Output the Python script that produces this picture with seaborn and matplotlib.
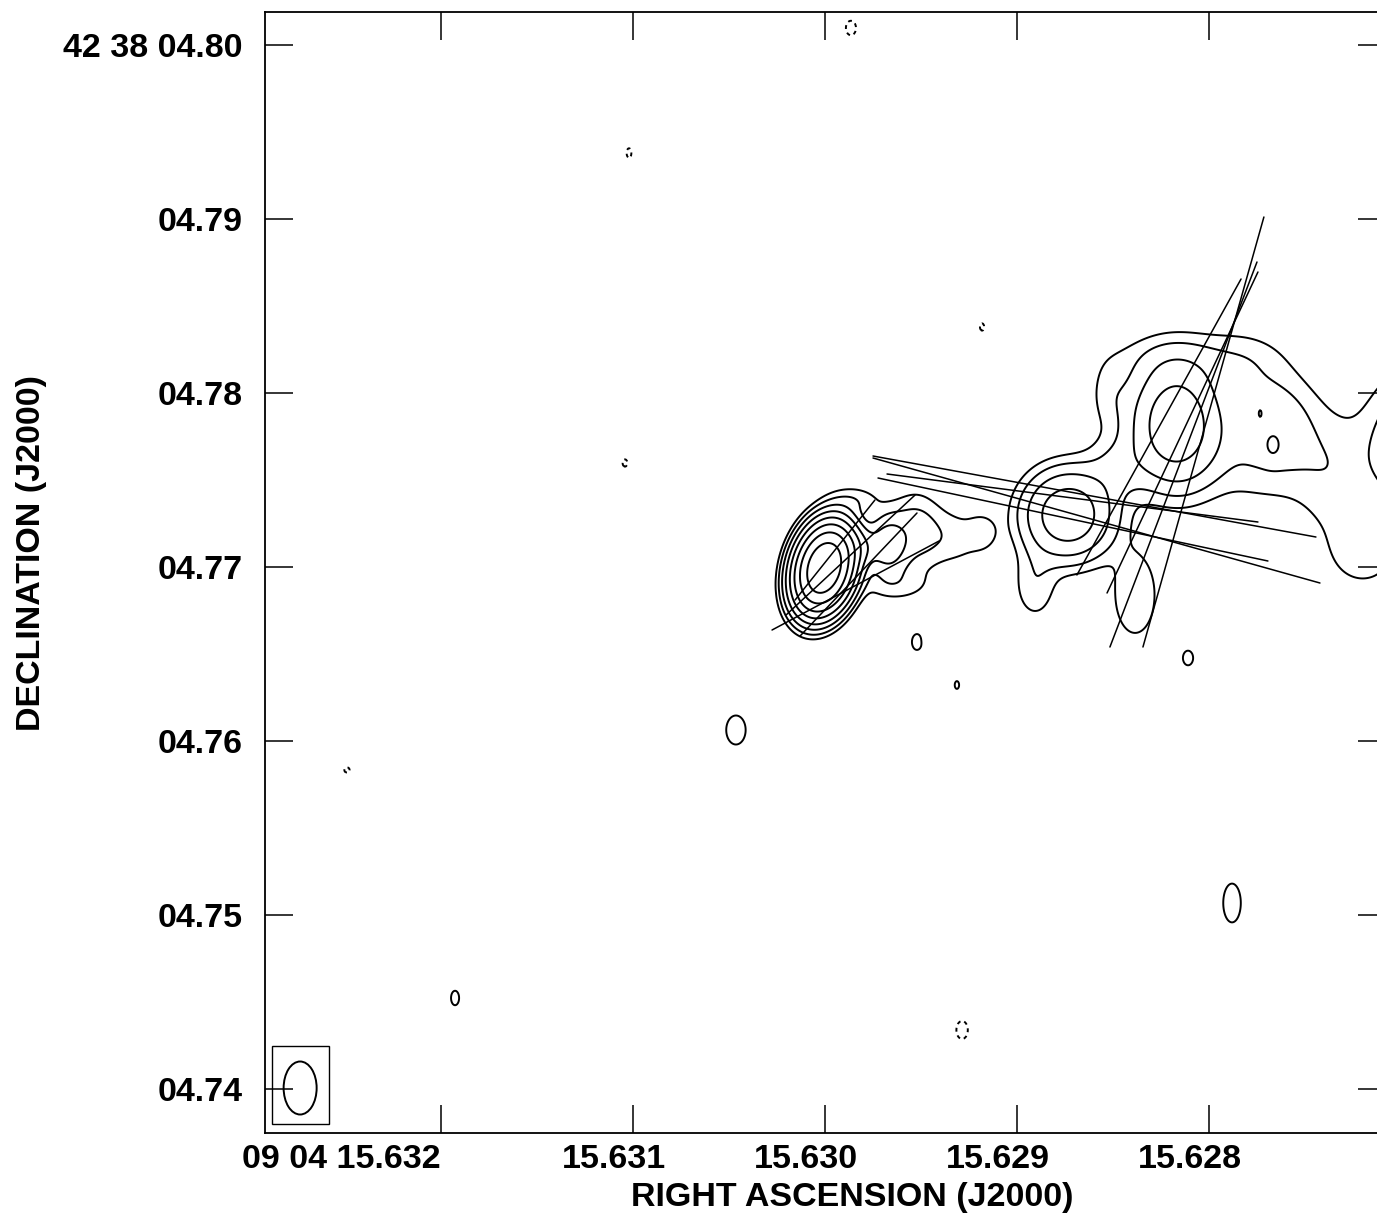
"""
VLBI-style contour map: Gaussian source components on an RA/Dec grid,
with jet direction segments overplotted and the restoring beam in the corner.
"""

import numpy as np
import matplotlib
matplotlib.use("Agg")
import matplotlib.pyplot as plt
from matplotlib.patches import Ellipse, Rectangle
from matplotlib.transforms import ScaledTranslation
import seaborn as sns

sns.set_style("ticks")
plt.rcParams["font.family"] = ["Liberation Sans", "DejaVu Sans"]
plt.rcParams["font.weight"] = "bold"
plt.rcParams["axes.labelcolor"] = "k"
plt.rcParams["text.color"] = "k"

# ── source components (RA s, Dec arcsec, peak in units of lowest contour, sigma in mas) ──
# core + inner jet
core_ra = [15.630005, 15.629844, 15.629672, 15.629531, 15.629323, 15.629177, 15.629844, 15.629635]
core_dec = [4.769943, 4.771092, 4.771264, 4.772126, 4.771667, 4.772011, 4.773851, 4.768966]
core_amp = [250, 6.0, 5.5, 2.6, 1.4, 1.2, 1.5, 1.4]
core_sx = [0.80, 0.80, 0.70, 1.03, 1.26, 0.57, 1.03, 1.44]
core_sy = [1.26, 0.69, 1.03, 1.44, 1.15, 0.69, 0.575, 0.69]
core_tilt = [15, 0, 0, 0, 0, 0, 0, 0]

# outer knots B, C and the diffuse emission around them
knot_ra = [15.628734, 15.628172, 15.628474, 15.628229, 15.627839, 15.627656,
           15.628385, 15.628906, 15.628516, 15.627682, 15.627344, 15.627188, 15.626927,
           15.627734, 15.627667]
knot_dec = [4.772989, 4.778218, 4.775690, 4.782011, 4.781782, 4.778736,
            4.768391, 4.768966, 4.779885, 4.776437, 4.774425, 4.770690, 4.777011,
            4.778851, 4.776897]
knot_amp = [13, 13, 2.0, 1.2, 1.6, 2.2,
            1.8, 1.7, 1.3, 1.7, 1.1, 1.4, 4.5,
            1.4, 1.6]
knot_sx = [1.50, 1.50, 1.26, 2.30, 1.84, 1.61,
           1.03, 0.86, 0.86, 3.16, 1.44, 1.44, 1.72,
           0.12, 0.35]
knot_sy = [1.50, 2.07, 1.26, 1.03, 1.26, 1.72,
           2.01, 1.44, 1.44, 2.01, 2.59, 1.44, 2.59,
           0.29, 0.52]

# isolated noise peaks (negative ones drawn dashed)
spot_ra = [15.630464, 15.627880, 15.628109, 15.631927, 15.629313, 15.629521,
           15.629865, 15.631021, 15.631042, 15.632490, 15.629182, 15.629286, 15.629448]
spot_dec = [4.760632, 4.750690, 4.764770, 4.745230, 4.763218, 4.765690,
            4.800977, 4.793793, 4.775977, 4.758333, 4.783793, 4.743391, 4.765805]
spot_amp = [1.6, 1.6, 1.3, 1.3, 1.1, 1.3,
            -1.3, -1.15, -1.15, -1.15, -1.15, -1.4, -1.1]
spot_sx = [0.575, 0.52, 0.40, 0.32, 0.29, 0.40,
           0.40, 0.26, 0.26, 0.29, 0.23, 0.40, 0.23]
spot_sy = [0.86, 1.15, 0.575, 0.575, 0.52, 0.63,
           0.575, 0.52, 0.40, 0.29, 0.40, 0.63, 0.23]

levels = [-1, 1, 2, 4, 8, 16, 32, 64, 128]

# ── direction segments (RA s, Dec arcsec) ──
seg_ra0 = [15.630276, 15.630130, 15.630203, 15.630156,
           15.629750, 15.629750, 15.629677, 15.629724,
           15.628344, 15.628516, 15.628531, 15.628688]
seg_dec0 = [4.766379, 4.766034, 4.767241, 4.768103,
            4.776379, 4.776264, 4.775345, 4.775115,
            4.765402, 4.765402, 4.768506, 4.769540]
seg_ra1 = [15.629406, 15.629521, 15.629531, 15.629740,
           15.627443, 15.627422, 15.627745, 15.627693,
           15.627714, 15.627750, 15.627745, 15.627833]
seg_dec1 = [4.771494, 4.773103, 4.774138, 4.773851,
            4.771724, 4.769080, 4.772586, 4.770345,
            4.790115, 4.787529, 4.786954, 4.786552]

# ── beam (FWHM) ──
beam_ra, beam_dec = 15.632734, 4.740057
beam_w, beam_h = 0.000172, 0.003046          # s, arcsec

# ── axes ──
ra_lim = (15.632917, 15.627078)
dec_lim = (4.737471, 4.801897)
xticks = [15.632, 15.631, 15.630, 15.629, 15.628]
xlabels = ["09 04 15.632", "15.631", "15.630", "15.629", "15.628"]
yticks = [4.74, 4.75, 4.76, 4.77, 4.78, 4.79, 4.80]
ylabels = ["04.74", "04.75", "04.76", "04.77", "04.78", "04.79", "42 38 04.80"]

# ── build the image ──
MAS_PER_S = 15000 * np.cos(np.radians(42.634658))
ra = np.linspace(ra_lim[0], ra_lim[1], 1122)
dec = np.linspace(dec_lim[0], dec_lim[1], 1122)
RA, DEC = np.meshgrid(ra, dec)

all_ra = core_ra + knot_ra + spot_ra
all_dec = core_dec + knot_dec + spot_dec
all_amp = core_amp + knot_amp + spot_amp
all_sx = core_sx + knot_sx + spot_sx
all_sy = core_sy + knot_sy + spot_sy
all_tilt = core_tilt + [0] * (len(knot_ra) + len(spot_ra))

img = np.zeros_like(RA)
for r0, d0, a, sx, sy, t in zip(all_ra, all_dec, all_amp, all_sx, all_sy, all_tilt):
    xw = -(RA - r0) * MAS_PER_S
    yn = (DEC - d0) * 1000
    th = np.radians(t)
    u = xw * np.cos(th) - yn * np.sin(th)
    v = xw * np.sin(th) + yn * np.cos(th)
    img += a * np.exp(-0.5 * ((u / sx) ** 2 + (v / sy) ** 2))

# ── plot ──
fig = plt.figure(figsize=(13.77, 12.14), dpi=100)
ax = fig.add_axes([265 / 1377, 81 / 1214, 1121 / 1377, 1121 / 1214])

styles = [(0, (2, 2)) if lv < 0 else "solid" for lv in levels]
ax.contour(RA, DEC, img, levels=levels, colors="k", linewidths=1.4, linestyles=styles)

for x0, y0, x1, y1 in zip(seg_ra0, seg_dec0, seg_ra1, seg_dec1):
    ax.plot([x0, x1], [y0, y1], color="k", lw=1.1)

ax.add_patch(Ellipse((beam_ra, beam_dec), beam_w, beam_h, fill=False, ec="k", lw=1.4))
ax.add_patch(Rectangle((beam_ra + 0.000146, beam_dec - 0.002068), -0.000297, 0.004483,
                       fill=False, ec="k", lw=1.0))

ax.set_xlim(*ra_lim)
ax.set_ylim(*dec_lim)
ax.set_xticks(xticks)
ax.set_xticklabels(xlabels)
ax.set_yticks(yticks)
ax.set_yticklabels(ylabels)
ax.tick_params(direction="in", length=20, width=1.1, top=True, right=True,
               labelsize=24.5, color="k", labelcolor="k")
ax.tick_params(axis="x", pad=8)
ax.tick_params(axis="y", pad=16)
for sp in ax.spines.values():
    sp.set_linewidth(1.3)
    sp.set_color("k")

for i, lab in enumerate(ax.get_xticklabels()):
    if i == 0:
        lab.set_ha("right")
    else:
        lab.set_transform(lab.get_transform() + ScaledTranslation(-0.19, 0, fig.dpi_scale_trans))

ax.set_xlabel("RIGHT ASCENSION (J2000)", fontsize=24.5, fontweight="bold", color="k")
ax.set_ylabel("DECLINATION (J2000)", fontsize=24.5, fontweight="bold", color="k")
ax.xaxis.set_label_coords(0.524, -0.044)
ax.yaxis.set_label_coords(-0.1945, 0.517)

fig.savefig("out.png", dpi=100)
